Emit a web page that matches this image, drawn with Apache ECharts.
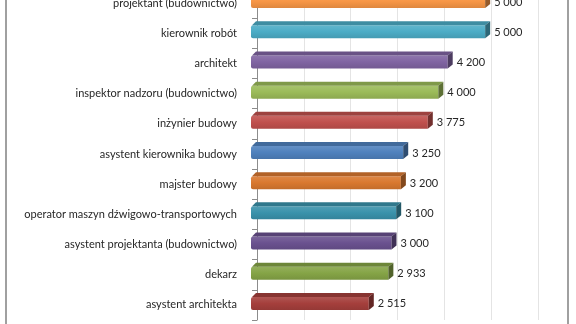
<!DOCTYPE html>
<html>
<head>
<meta charset="utf-8">
<script src="https://cdn.jsdelivr.net/npm/echarts@6/dist/echarts.min.js"></script>
<style>html,body{margin:0;padding:0;background:#fff;overflow:hidden;}#c{width:576px;height:336px;margin-top:-12px;}</style>
</head>
<body>
<div id="c"></div>
<script>
const categories = [
  'projektant (budownictwo)',
  'kierownik robót',
  'architekt',
  'inspektor nadzoru (budownictwo)',
  'inżynier budowy',
  'asystent kierownika budowy',
  'majster budowy',
  'operator maszyn dźwigowo-transportowych',
  'asystent projektanta (budownictwo)',
  'dekarz',
  'asystent architekta'
];
const values = [5000, 5000, 4200, 4000, 3775, 3250, 3200, 3100, 3000, 2933, 2515];
const barColors = ['#F79646', '#4BACC6', '#8064A2', '#9BBB59', '#C0504D', '#4F81BD',
                   '#D9782F', '#3A92AB', '#6A518F', '#85A446', '#A53F3C'];
const xTicks = [0, 1000, 2000, 3000, 4000, 5000, 6000];

function shade(hex, f) {
  const n = parseInt(hex.slice(1), 16);
  let r = (n >> 16) & 255, g = (n >> 8) & 255, b = n & 255;
  const adj = c => f >= 0 ? Math.round(c + (255 - c) * f) : Math.round(c * (1 + f));
  return 'rgb(' + adj(r) + ',' + adj(g) + ',' + adj(b) + ')';
}
function fmt(v) {
  return String(v).replace(/\B(?=(\d{3})+(?!\d))/g, ' ');
}

const chart = echarts.init(document.getElementById('c'), null, {renderer: 'canvas'});
const DX = 5, DY = 4, SHIFT = 6;

chart.setOption({
  animation: false,
  backgroundColor: '#ffffff',
  grid: {left: 257, right: 38, top: 0, bottom: 4, containLabel: false},
  graphic: [
    {type: 'line', shape: {x1: 6, y1: 0, x2: 6, y2: 340}, style: {stroke: '#a0a0a0', lineWidth: 2}, z: 100},
    {type: 'line', shape: {x1: 568, y1: 0, x2: 568, y2: 340}, style: {stroke: '#a0a0a0', lineWidth: 2}, z: 100}
  ],
  xAxis: {
    type: 'value', min: xTicks[0], max: xTicks[xTicks.length - 1], interval: 1000,
    axisLabel: {show: false}, axisLine: {show: false}, axisTick: {show: false},
    splitLine: {show: true, lineStyle: {color: '#e4e4e4', width: 1}}
  },
  yAxis: {
    type: 'category', data: categories, inverse: true, offset: 11,
    axisLine: {show: true, lineStyle: {color: '#8c8c8c', width: 1}},
    axisTick: {show: true, length: 5, lineStyle: {color: '#8c8c8c'}},
    axisLabel: {margin: 9, fontSize: 11, fontFamily: 'Lato', color: '#262626'},
    splitLine: {show: false}
  },
  series: [{
    type: 'custom',
    clip: false,
    encode: {x: 0, y: 1},
    data: values.map((v, i) => [v, i]),
    renderItem: function (params, api) {
      const v = api.value(0), idx = api.value(1);
      const p0 = api.coord([0, idx]);
      const p1 = api.coord([v, idx]);
      const c = p0[1];
      const col = barColors[params.dataIndex];
      const xl = p0[0] - SHIFT, xr = p1[0] - SHIFT;
      const yt = c - 8, yb = c + 5;
      return {
        type: 'group',
        children: [
          {type: 'rect', shape: {x: xl, y: yt, width: xr - xl, height: yb - yt, r: [2, 0, 0, 2]},
           style: {fill: new echarts.graphic.LinearGradient(0, 0, 0, 1, [
             {offset: 0, color: shade(col, 0.12)},
             {offset: 0.5, color: col},
             {offset: 1, color: shade(col, -0.1)}])}},
          {type: 'polygon', shape: {points: [[xl + 1, yt], [xl + DX, yt - DY], [xr + DX, yt - DY], [xr, yt]]},
           style: {fill: shade(col, -0.18)}},
          {type: 'polygon', shape: {points: [[xr, yt], [xr + DX, yt - DY], [xr + DX, yb - DY], [xr, yb]]},
           style: {fill: shade(col, -0.4)}},
          {type: 'text', style: {x: xr + DX + 4, y: c - 1, text: fmt(v), fill: '#262626',
           font: '11px Lato', textVerticalAlign: 'middle', textAlign: 'left'}}
        ]
      };
    }
  }]
});
</script>
</body>
</html>
